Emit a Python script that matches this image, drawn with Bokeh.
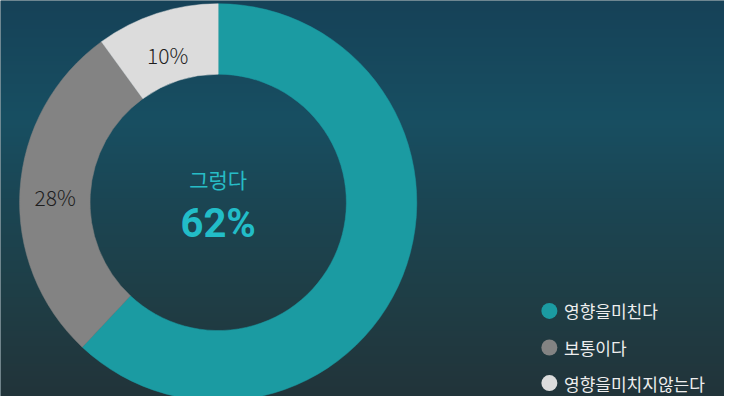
import numpy as np
from bokeh.plotting import figure
from bokeh.models import ColumnDataSource
from bokeh.core.properties import value
from bokeh.embed import file_html
from bokeh.resources import INLINE

# ---- data ----
categories = ["영향을미친다", "보통이다", "영향을미치지않는다"]
values = [62, 28, 10]
colors = ["#1b9ba2", "#838383", "#dcdcdc"]
center_title = "그렁다"
center_value = "62%"

W, H = 724, 396          # figure size in pixels
XW, YH = 740, 412        # data extent (reference canvas units)
p = figure(width=W, height=H, x_range=(0, XW), y_range=(0, YH),
           output_backend="svg", toolbar_location=None, min_border=0)
p.axis.visible = False
p.grid.visible = False
p.outline_line_color = None
p.background_fill_color = "#1b3f4c"
p.border_fill_color = "#1b3f4c"

# background vertical gradient (top -> bottom)
stops_t = [0.0, 0.3, 0.5, 0.75, 1.0]
stops_c = [(22, 66, 88), (24, 79, 98), (27, 70, 84), (31, 62, 70), (34, 52, 58)]
t = np.linspace(1.0, 0.0, H)  # row 0 = bottom
img = np.zeros((H, 1), dtype=np.uint32)
view = img.view(dtype=np.uint8).reshape((H, 1, 4))
for ch in range(3):
    view[:, 0, ch] = np.interp(t, stops_t, [c[ch] for c in stops_c]).astype(np.uint8)
view[:, 0, 3] = 255
p.image_rgba(image=[img], x=0, y=0, dw=XW, dh=YH)

# donut
cx, cy = 222.5, 202.0
r_in, r_out = 131, 203
total = float(sum(values))
frac = np.array(values) / total
ends_cum = np.cumsum(frac)
starts_cum = ends_cum - frac
start_angle = np.pi / 2 - 2 * np.pi * starts_cum
end_angle = np.pi / 2 - 2 * np.pi * ends_cum
src = ColumnDataSource(dict(start=start_angle, end=end_angle, color=colors,
                            cat=categories, val=values))
p.annular_wedge(x=cx, y=cy, inner_radius=r_in, outer_radius=r_out,
                start_angle="start", end_angle="end", direction="clock",
                fill_color="color", line_color="color", line_width=0.5, source=src)

# slice labels (all but the first)
mid = (start_angle + end_angle) / 2
r_mid = (r_in + r_out) / 2
lx = cx + r_mid * np.cos(mid[1:])
ly = cy + r_mid * np.sin(mid[1:])
lt = [f"{v}%" for v in values[1:]]
p.text(x=lx, y=ly, text=lt, text_align="center", text_baseline="middle",
       text_font=value("Noto Sans CJK KR Light"), text_font_size="21px",
       text_color="#1e1e1e", y_offset=5)

# center text
p.text(x=[cx], y=[cy], text=[center_title], text_align="center",
       text_baseline="middle", y_offset=-23,
       text_font=value("Noto Sans CJK KR"), text_font_size="21px",
       text_color="#27bcc6")
p.text(x=[cx], y=[cy], text=[center_value], text_align="center",
       text_baseline="middle", y_offset=21,
       text_font=value("Roboto"), text_font_style="bold", text_font_size="40px",
       text_color="#22bdc8")

# legend
leg_x = 561
leg_y = [89, 51, 14]
p.scatter(x=[leg_x] * 3, y=leg_y, size=16, marker="circle",
          fill_color=colors, line_color=None)
p.text(x=[leg_x + 15] * 3, y=leg_y, text=categories, text_align="left",
       text_baseline="middle", text_font=value("Noto Sans CJK KR"),
       text_font_size="17px", text_color="#eeeeee")

open("out.html", "w").write(file_html(p, INLINE))
